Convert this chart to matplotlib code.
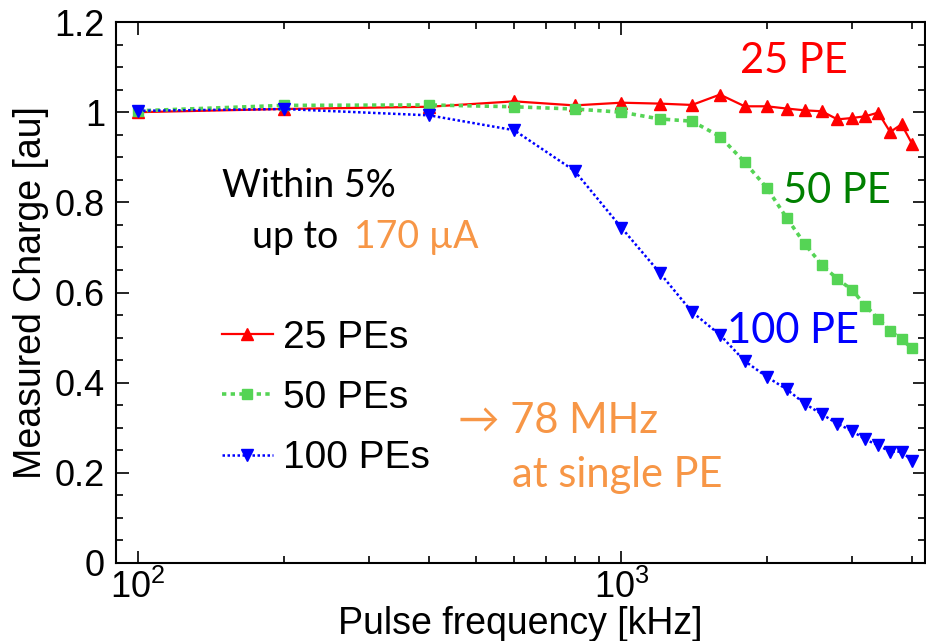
import matplotlib
matplotlib.use("Agg")
import matplotlib.pyplot as plt
from matplotlib.ticker import FixedLocator, NullFormatter

# pulse frequency in kHz
freq = [100, 200, 400, 600, 800, 1000, 1200, 1400, 1600, 1800, 2000,
        2200, 2400, 2600, 2800, 3000, 3200, 3400, 3600, 3800, 4000]

charge_25 = [1.000, 1.007, 1.012, 1.024, 1.015, 1.021, 1.019, 1.016, 1.039, 1.013, 1.013,
             1.008, 1.004, 1.002, 0.984, 0.987, 0.991, 0.999, 0.956, 0.973, 0.929]
charge_50 = [1.003, 1.015, 1.016, 1.012, 1.007, 1.000, 0.985, 0.980, 0.946, 0.889, 0.832,
             0.765, 0.707, 0.661, 0.630, 0.606, 0.571, 0.542, 0.515, 0.496, 0.476]
charge_100 = [1.003, 1.007, 0.993, 0.960, 0.870, 0.744, 0.644, 0.557, 0.506, 0.448, 0.413,
              0.385, 0.353, 0.330, 0.309, 0.293, 0.274, 0.261, 0.247, 0.247, 0.227]

yticks = [0, 0.2, 0.4, 0.6, 0.8, 1.0, 1.2]
ytick_labels = ['0', '0.2', '0.4', '0.6', '0.8', '1', '1.2']

ORANGE = '#F79646'
W, H = 926, 641

plt.rcParams['font.family'] = ['Liberation Sans', 'DejaVu Sans']

fig = plt.figure(figsize=(W / 100, H / 100), dpi=100)
ax = fig.add_axes([116 / W, 1 - 563 / H, (925 - 116) / W, (563 - 22) / H])

ax.plot(freq, charge_25, color='#FF0000', lw=1.6, ls='-', marker='^', ms=8,
        label='25 PEs')
ax.plot(freq, charge_50, color='#55D455', lw=2.6, ls=(0, (1.2, 1.2)), marker='s', ms=7.5,
        label='50 PEs')
ax.plot(freq, charge_100, color='#0000FF', lw=1.8, ls=(0, (1, 1)), marker='v', ms=8,
        label='100 PEs')

ax.set_xscale('log')
ax.set_xlim(90, 4250)
ax.set_ylim(0, 1.2)

ax.xaxis.set_major_locator(FixedLocator([100, 1000]))
ax.xaxis.set_minor_locator(FixedLocator([200, 300, 400, 500, 600, 700, 800, 900,
                                         2000, 3000, 4000]))
ax.xaxis.set_minor_formatter(NullFormatter())
ax.set_yticks(yticks, ytick_labels)
ax.yaxis.set_minor_locator(FixedLocator([i * 0.05 for i in range(25)]))

ax.tick_params(which='both', direction='in', top=True, right=True, labelsize=26, width=1.2)
ax.tick_params(which='major', length=9)
ax.tick_params(which='minor', length=5)
ax.tick_params(axis='x', pad=5)
ax.tick_params(axis='y', pad=8)
for s in ax.spines.values():
    s.set_linewidth(1.5)

ax.set_xlabel('Pulse frequency [kHz]', fontsize=27, labelpad=0)
ax.set_ylabel('Measured Charge [au]', fontsize=27, labelpad=4)

ax.legend(loc='center left', bbox_to_anchor=(222 / W, 1 - 398 / H),
          bbox_transform=fig.transFigure, frameon=False, fontsize=28,
          borderpad=0, borderaxespad=0, handlelength=1.3, handletextpad=0.28,
          labelspacing=0.62)


def label(x, y, s, color, size):
    # x, y are pixel positions of the text's left baseline
    fig.text(x / W, 1 - y / H, s, color=color, fontsize=size,
             family=['Lato', 'DejaVu Sans'], ha='left', va='baseline')


label(740, 73, '25 PE', '#FF0000', 30)
label(783, 203, '50 PE', '#008000', 30)
label(727, 343, '100 PE', '#0000FF', 30)
label(222, 197, 'Within 5%', 'black', 27)
label(252, 248, 'up to', 'black', 27)
label(354, 248, '170 µA', ORANGE, 27)
label(458, 433, '\u2192 78 MHz', ORANGE, 30)
label(512, 487, 'at single PE', ORANGE, 30)

fig.savefig('out.png', dpi=100)
